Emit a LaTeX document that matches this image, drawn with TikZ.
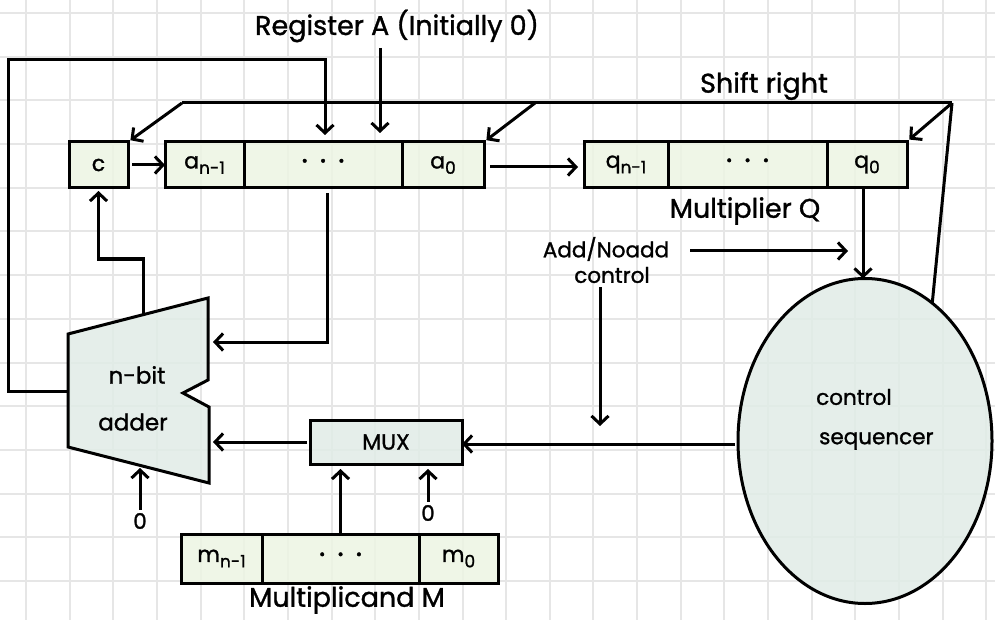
\documentclass[tikz,border=0pt]{standalone}
\usepackage{fontspec}
\setmainfont{Poppins}[FakeBold=1.2]
\usetikzlibrary{arrows.meta,shapes.geometric}
\definecolor{gridgray}{HTML}{E6E6E6}
\definecolor{regfill}{HTML}{EDF5E3}
\definecolor{unitfill}{HTML}{E1ECE7}
% lowered, smaller index for register bit names
\newcommand\lowidx[1]{\raisebox{-0.45ex}{\fontsize{17}{17}\selectfont #1}}
% spaced dots standing for the middle bits of a register
\newcommand\middots{{\fontsize{30}{30}\selectfont ·\hspace{12pt}·\hspace{12pt}·}}
\begin{document}
\begin{tikzpicture}[x=1pt,y=-1pt,
  gridline/.style={draw=gridgray,line width=2pt},
  wire/.style={line width=3pt,line join=miter},
  arr/.style={wire,-{Straight Barb[length=8pt,width=17pt]}},
  cell/.style={draw,line width=3pt,fill=regfill,fill opacity=0.85,text opacity=1,
    inner sep=0pt,outer sep=0pt,minimum height=46pt,font=\fontsize{22}{22}\selectfont},
  unit/.style={draw,line width=3pt,fill=unitfill,fill opacity=0.85,text opacity=1,
    inner sep=0pt,outer sep=0pt,font=\fontsize{22}{22}\selectfont},
  lbl/.style={font=\fontsize{27}{28}\selectfont,inner sep=1pt},
  small/.style={font=\fontsize{21.5}{22}\selectfont,inner sep=1pt}
]
% page and squared paper
\fill[white] (0,0) rectangle (995,620);
\useasboundingbox (0,0) rectangle (995,620);
\foreach \i in {0,...,22} \draw[gridline] ({26+43.65*\i},0) -- ({26+43.65*\i},620);
\foreach \j in {0,...,13} \draw[gridline] (0,{13+43.7*\j}) -- (995,{13+43.7*\j});

% carry flip-flop and register A
\node[cell,minimum width=59pt] (c) at (98.5,165) {c};
\node[cell,minimum width=79pt] (an1) at (204.5,165) {a\lowidx{n-1}};
\node[cell,minimum width=158pt] (adots) at (323,165) {\middots};
\node[cell,minimum width=82pt] (a0) at (443,165) {a\lowidx{0}};

% multiplier register Q
\node[cell,minimum width=84pt] (qn1) at (626,164.5) {q\lowidx{n-1}};
\node[cell,minimum width=159pt] (qdots) at (747.5,164.5) {\middots};
\node[cell,minimum width=80pt] (q0) at (867,164.5) {q\lowidx{0}};

% multiplicand register M
\node[cell,minimum width=81pt,minimum height=49pt] (mn1) at (221.5,558.5) {m\lowidx{n-1}};
\node[cell,minimum width=157pt,minimum height=49pt] (mdots) at (340.5,558.5) {\middots};
\node[cell,minimum width=79pt,minimum height=49pt] (m0) at (458.5,558.5) {m\lowidx{0}};

% multiplexer and control sequencer
\node[unit,minimum width=152pt,minimum height=44pt] (mux) at (386,442) {MUX};
\node[unit,ellipse,minimum width=254pt,minimum height=325pt] (seq) at (865,441) {};
\node[small,anchor=west] at (815,397) {control};
\node[small,anchor=west] at (818,441) {sequencer};

% n-bit adder outline
\draw[wire,fill=unitfill,fill opacity=0.85] (68,334) -- (208,298) -- (208,380) -- (183,393)
  -- (209,407) -- (209,483) -- (68,447) -- cycle;
\node[small,font=\fontsize{23}{24}\selectfont] at (137,375) {n-bit};
\node[small,font=\fontsize{23}{24}\selectfont] at (133,422) {adder};
\coordinate (addL) at (68,391);
\coordinate (addTop) at (143,315);
\coordinate (addIn1) at (209,342);
\coordinate (addIn2) at (209,442);
\coordinate (addBot) at (140,466);

% labels
\node[lbl] (regA) at (397,26) {Register A (Initially 0)};
\node[lbl] (shr) at (764,86) {Shift right};
\node[lbl] (mq) at (745,211) {Multiplier Q};
\node[lbl] (mm) at (347,600) {Multiplicand M};
\node[small] (addno) at (606,249) {Add/Noadd};
\node[small] (addctl) at (612,275) {control};
\node[small] (zeroA) at (140,521) {0};
\node[small] (zeroM) at (428,513) {0};

% free ends
\coordinate (regAx) at (380,48);
\coordinate (srL) at (182,103);
\coordinate (srM) at (535,103);
\coordinate (srR) at (952,103);
\coordinate (fbCorner) at (8,60);
\coordinate (cjog) at (98.5,259);
\coordinate (ctlTip) at (600,426);
\coordinate (anL) at (690,251);
\coordinate (anR) at (848,251);

% connectors
\draw[arr,shorten >=9pt] (regAx) -- (regAx |- adots.north);
\draw[arr,shorten <=4pt] (c.east) -- (an1.west);
\draw[arr,shorten <=6pt,shorten >=6pt] ([yshift=-2pt]a0.east) -- ([yshift=-2pt]a0.east -| qn1.west);
\draw[wire] (srL) -- (srR);
\draw[arr,shorten >=3pt] (srL) -- (c.north east);
\draw[arr,shorten >=3pt] (srM) -- (a0.north east);
\draw[arr,shorten >=3pt] (srR) -- (q0.north east);
\draw[wire] (seq.64) -- (srR);
\draw[arr,shorten >=7pt] (addL) -| (fbCorner) -| ([xshift=2pt]adots.north);
\draw[arr,shorten <=5pt,shorten >=4pt] ([xshift=4pt]adots.south) |- (addIn1);
\draw[arr,shorten >=3pt] (addTop) |- (cjog) -- (c.south);
\draw[arr,shorten <=2pt,shorten >=2pt] (zeroA.north) -- (addBot);
\draw[arr,shorten <=3pt,shorten >=4pt] (mux.west) -- (mux.west -| addIn2);
\draw[arr,shorten <=3pt] ([yshift=-3pt]seq.west) -- ([yshift=-3pt]seq.west -| mux.east);
\draw[arr,shorten <=3pt] (addctl.south -| ctlTip) -- (ctlTip);
\draw[arr] (anL) -- (anR);
\draw[arr,shorten <=2pt] ([xshift=-4pt]q0.south) -- ([xshift=-4pt]q0.south |- seq.north);
\draw[arr,shorten >=5pt] (mdots.north) -- (mdots.north |- mux.south);
\draw[arr,shorten <=2pt,shorten >=5pt] (zeroM.north) -- (zeroM.north |- mux.south);
\end{tikzpicture}
\end{document}
